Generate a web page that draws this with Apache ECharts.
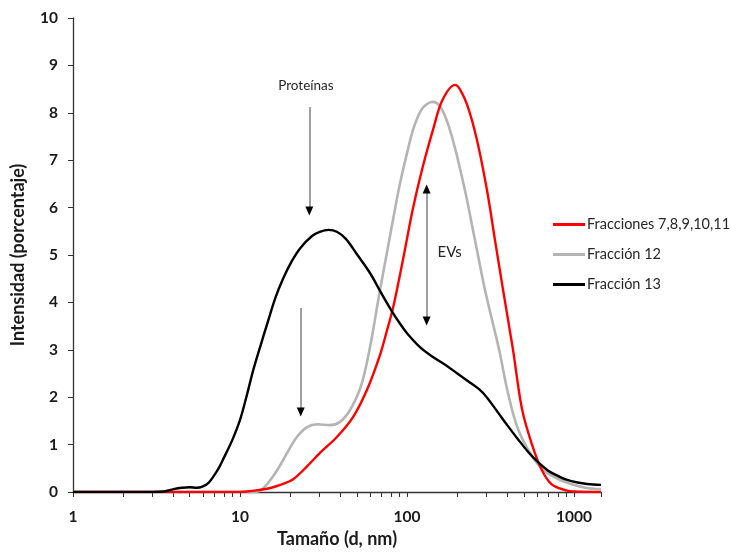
<!DOCTYPE html>
<html>
<head>
<meta charset="utf-8">
<script src="https://cdn.jsdelivr.net/npm/echarts@6/dist/echarts.min.js"></script>
<style>
html,body{margin:0;padding:0;background:#fff;}
#chart{width:731px;height:556px;}
</style>
</head>
<body>
<div id="chart"></div>
<script>
// Size (d, nm) and intensity (%)
const redX   = [1, 10, 11, 12.8, 15, 17.4, 20.8, 25, 30, 38, 47.5, 57.5, 69, 76, 82, 88, 97, 108, 124, 143, 163, 194, 207, 230, 262, 301, 336, 376, 431, 488, 560, 640, 735, 885, 1000, 1450];
const redY   = [0, 0, 0.01, 0.04, 0.08, 0.15, 0.27, 0.53, 0.82, 1.16, 1.58, 2.15, 2.9, 3.42, 3.85, 4.35, 5.1, 5.95, 6.85, 7.64, 8.27, 8.59, 8.5, 8.15, 7.43, 6.37, 5.32, 4.26, 3.0, 1.75, 1.0, 0.47, 0.16, 0.04, 0.01, 0];

const grayX  = [1, 10, 12, 13, 14, 15.7, 17.5, 19.1, 21.9, 25.2, 29, 34.5, 39.7, 45.6, 52, 56, 60, 64, 68, 74, 82, 90, 100, 110, 124, 143, 163, 188, 222, 255, 293, 356, 402, 462, 560, 670, 885, 1170, 1450];
const grayY  = [0, 0, 0, 0.02, 0.1, 0.32, 0.58, 0.82, 1.16, 1.37, 1.43, 1.41, 1.48, 1.73, 2.15, 2.55, 3.05, 3.6, 4.15, 4.85, 5.7, 6.45, 7.15, 7.7, 8.1, 8.23, 8.05, 7.43, 6.37, 5.32, 4.26, 3.0, 2.09, 1.33, 0.76, 0.44, 0.21, 0.09, 0.06];

const blackX = [1, 2, 3, 3.5, 4, 4.5, 5, 5.5, 6, 6.5, 7, 7.5, 8, 9, 10, 11, 12, 13.3, 14.7, 16.3, 18.1, 20.5, 23, 27, 30, 34, 38, 43, 50, 60, 70, 80, 90, 100, 120, 140, 170, 200, 240, 270, 300, 350, 400, 460, 530, 600, 700, 800, 900, 1050, 1200, 1450];
const blackY = [0, 0, 0, 0.01, 0.06, 0.09, 0.1, 0.09, 0.12, 0.2, 0.35, 0.52, 0.72, 1.1, 1.52, 2.05, 2.57, 3.1, 3.6, 4.1, 4.5, 4.88, 5.15, 5.4, 5.49, 5.53, 5.49, 5.34, 5.02, 4.62, 4.2, 3.85, 3.57, 3.35, 3.05, 2.87, 2.68, 2.5, 2.3, 2.17, 2.0, 1.68, 1.4, 1.12, 0.85, 0.65, 0.45, 0.34, 0.26, 0.2, 0.17, 0.15];

const seriesNames = ['Fracciones 7,8,9,10,11', 'Fracción 12', 'Fracción 13'];
const xMin = 1, xMax = 1450;
const xLabelValues = [1, 10, 100, 1000];
const xTickValues = [1, 2, 3, 4, 5, 6, 7, 8, 9, 10, 20, 30, 40, 50, 60, 70, 80, 90, 100, 200, 300, 400, 500, 600, 700, 800, 900, 1000, 1450];

// Annotations (data coordinates)
const protLabel = {text: 'Proteínas', x: 24.8, y: 8.57};
const evsLabel  = {text: 'EVs', x: 180, y: 5.05};
const arrowProt1 = {x: 26.0, y1: 8.12, y2: 5.93};
const arrowProt2 = {x: 23.1, y1: 3.88, y2: 1.69};
const arrowEVs   = {x: 131, y1: 6.39, y2: 3.61};

const FONT = 'Lato, "Open Sans", sans-serif';
const zip = (xs, ys) => xs.map((x, i) => [x, ys[i]]);

function arrowItems(a, both) {
  const items = [
    [{coord: [a.x, a.y1], symbol: 'none'}, {coord: [a.x, a.y2], symbol: 'none'}],
    [{coord: [a.x, a.y2 + 0.05], symbol: 'none', lineStyle: {color: '#000'}}, {coord: [a.x, a.y2], symbol: 'triangle', symbolSize: [8, 9], lineStyle: {color: '#000'}}]
  ];
  if (both) {
    items.push([{coord: [a.x, a.y1 - 0.05], symbol: 'none', lineStyle: {color: '#000'}}, {coord: [a.x, a.y1], symbol: 'triangle', symbolSize: [8, 9], lineStyle: {color: '#000'}}]);
  }
  return items;
}

const chart = echarts.init(document.getElementById('chart'), null, {renderer: 'canvas'});
const lineCommon = {type: 'line', showSymbol: false, smooth: 0.35};
chart.setOption({
  animation: false,
  backgroundColor: '#fff',
  grid: {left: 73, right: 130, top: 18, bottom: 64, containLabel: false},
  legend: {
    data: seriesNames,
    orient: 'vertical',
    left: 548,
    top: 212,
    itemWidth: 32,
    itemHeight: 3,
    itemGap: 15,
    icon: 'rect',
    textStyle: {fontFamily: FONT, fontSize: 14.5, color: '#262626', padding: [0, 0, 0, -3]}
  },
  xAxis: {
    type: 'log',
    logBase: 10,
    min: xMin,
    max: xMax,
    name: 'Tamaño (d, nm)',
    nameLocation: 'middle',
    nameGap: 35,
    nameTextStyle: {fontFamily: FONT, fontSize: 18, fontWeight: 'bold', color: '#1a1a1a'},
    axisLine: {show: true, lineStyle: {color: '#333', width: 1.3}},
    axisTick: {show: true, inside: false, length: 5, lineStyle: {color: '#333', width: 1}, customValues: xTickValues},
    splitLine: {show: false},
    axisLabel: {
      margin: 17,
      customValues: xLabelValues,
      fontFamily: FONT, fontSize: 15.5, fontWeight: 'bold', color: '#1a1a1a',
      formatter: v => String(Math.round(v))
    }
  },
  yAxis: {
    type: 'value',
    min: 0,
    max: 10,
    interval: 1,
    name: 'Intensidad (porcentaje)',
    nameLocation: 'middle',
    nameGap: 46,
    nameTextStyle: {fontFamily: FONT, fontSize: 18, fontWeight: 'bold', color: '#1a1a1a'},
    axisLine: {show: true, lineStyle: {color: '#333', width: 1.3}},
    axisTick: {show: true, inside: false, length: 5, lineStyle: {color: '#333', width: 1}},
    splitLine: {show: false},
    axisLabel: {margin: 15, fontFamily: FONT, fontSize: 15.5, fontWeight: 'bold', color: '#1a1a1a'}
  },
  series: [
    Object.assign({}, lineCommon, {
      name: seriesNames[1], data: zip(grayX, grayY),
      lineStyle: {color: '#b4b4b4', width: 2.6}, itemStyle: {color: '#b4b4b4'}, z: 2
    }),
    Object.assign({}, lineCommon, {
      name: seriesNames[0], data: zip(redX, redY),
      lineStyle: {color: '#ff0000', width: 2.4}, itemStyle: {color: '#ff0000'}, z: 3
    }),
    Object.assign({}, lineCommon, {
      name: seriesNames[2], data: zip(blackX, blackY),
      lineStyle: {color: '#000', width: 2.4}, itemStyle: {color: '#000'}, z: 4,
      markLine: {
        silent: true,
        animation: false,
        label: {show: false},
        lineStyle: {color: '#7f7f7f', width: 1.5, type: 'solid'},
        emphasis: {disabled: true},
        data: [].concat(arrowItems(arrowProt1, false), arrowItems(arrowProt2, false), arrowItems(arrowEVs, true))
      },
      markPoint: {
        silent: true,
        animation: false,
        symbol: 'circle',
        symbolSize: 0,
        label: {show: true, position: 'inside', fontFamily: FONT, color: '#262626'},
        data: [
          {coord: [protLabel.x, protLabel.y], value: protLabel.text, label: {formatter: protLabel.text, fontSize: 13.5}},
          {coord: [evsLabel.x, evsLabel.y], value: evsLabel.text, label: {formatter: evsLabel.text, fontSize: 15}}
        ]
      }
    })
  ]
});
</script>
</body>
</html>
